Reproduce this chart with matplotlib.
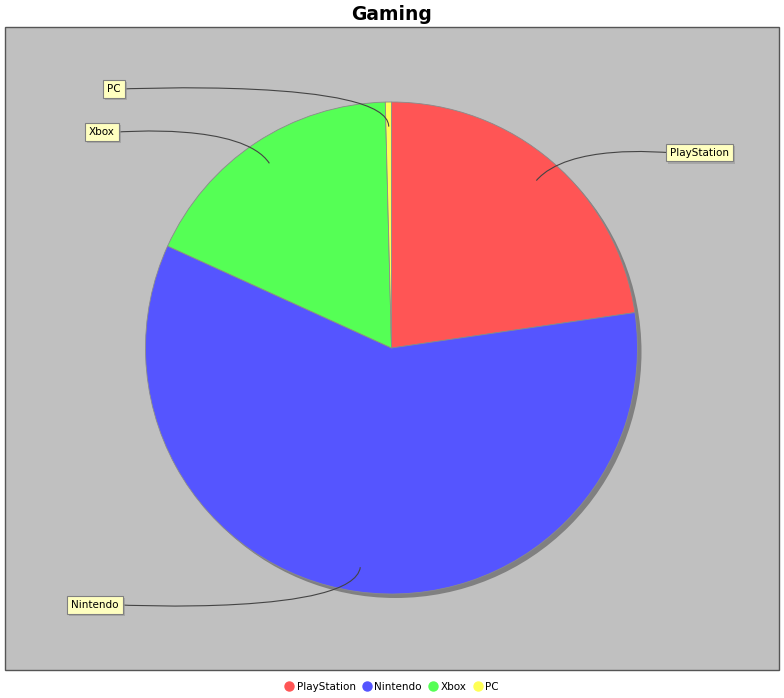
import numpy as np
import matplotlib
matplotlib.use("Agg")
import matplotlib.pyplot as plt
from matplotlib.path import Path
from matplotlib.patches import PathPatch, Rectangle, Circle
from matplotlib.lines import Line2D
import matplotlib.patheffects as pe

categories = ["PlayStation", "Nintendo", "Xbox", "PC"]
values = [22.7, 59.1, 17.8, 0.4]
colors = ["#FF5555", "#5555FF", "#55FF55", "#FFFF55"]
title = "Gaming"

W, H = 784, 698
fig = plt.figure(figsize=(W / 100, H / 100), dpi=100)
ax = fig.add_axes([0, 0, 1, 1])

def py(y):  # pixel y (top-down) to data y
    return H - y

# plot area background
ax.add_patch(Rectangle((5, py(670)), 774, 643, facecolor="#C0C0C0",
                       edgecolor="#555555", lw=1.0, zorder=0))

cx, cy, r = 391.5, py(348), 246
# shadow
ax.add_patch(Circle((cx + 4, cy - 4), r, facecolor="#808080", edgecolor="none", zorder=1))

wedges, _ = ax.pie(values, colors=colors, startangle=90, counterclock=False,
                   center=(cx, cy), radius=r,
                   wedgeprops=dict(edgecolor="#8A8A8A", linewidth=0.6, zorder=2))
for w in wedges:
    w.set_zorder(2)

# label links and boxes
total = float(sum(values))
cum = np.cumsum([0] + values[:-1])
mids = [90 - 360 * (c + v / 2) / total for c, v in zip(cum, values)]

label_centers = {"PlayStation": (699.5, 152.5), "Nintendo": (95, 605),
                 "Xbox": (102, 132), "PC": (114, 89)}
label_edges = {"PlayStation": 667, "Nintendo": 122, "Xbox": 118, "PC": 123}

for name, th in zip(categories, mids):
    t = np.deg2rad(th)
    lx, ly = label_centers[name]
    ex = label_edges[name]
    right = ex > cx
    link = (cx + 0.9 * r * np.cos(t), cy + 0.9 * r * np.sin(t))
    elbow = (cx + 1.1 * r * np.cos(t), cy + 1.1 * r * np.sin(t))
    ax_x = cx + 1.1 * r if right else cx - 1.1 * r
    verts = [(ex, py(ly)), (ax_x, py(ly)), elbow, link]
    codes = [Path.MOVETO, Path.CURVE4, Path.CURVE4, Path.CURVE4]
    ax.add_patch(PathPatch(Path(verts, codes), facecolor="none",
                           edgecolor="#444444", lw=0.8, zorder=3))
    txt = ax.text(lx, py(ly), name, ha="center", va="center", fontsize=7.5,
                  color="black", zorder=4,
                  bbox=dict(boxstyle="square,pad=0.38", fc="#FFFFC0", ec="#808080", lw=0.8))
    txt.get_bbox_patch().set_path_effects([
        pe.SimplePatchShadow(offset=(1.5, -1.5), shadow_rgbFace="#979797", alpha=0.6),
        pe.Normal()])

ax.set_xlim(0, W)
ax.set_ylim(0, H)
ax.set_aspect("auto")
ax.axis("off")

fig.text(0.5, 1 - 14 / H, title, ha="center", va="center",
         fontsize=13.5, fontweight="bold")

handles = [Line2D([], [], marker="o", linestyle="none", markersize=6.5,
                  markerfacecolor=c, markeredgecolor=c) for c in colors]
fig.legend(handles, categories, loc="center", bbox_to_anchor=(0.5, 1 - 687 / H),
           ncol=4, frameon=False, fontsize=7.5, handlelength=0.8,
           handletextpad=0.3, columnspacing=0.7, borderpad=0)

fig.savefig("out.png", dpi=100, facecolor="white")
